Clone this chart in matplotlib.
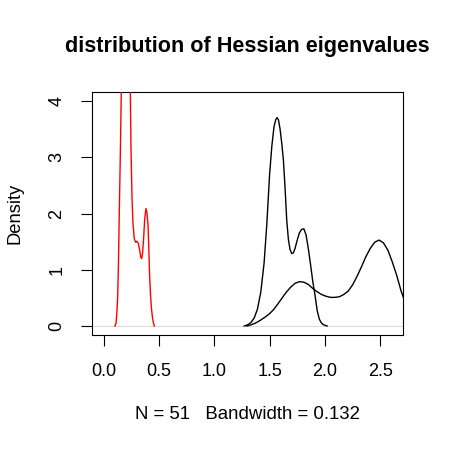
import matplotlib
matplotlib.use("Agg")
import matplotlib.pyplot as plt

plt.rcParams['font.family'] = ['Liberation Sans', 'DejaVu Sans']

# ----------------------
# Data (density curves)
# ----------------------
narrow_x = [1.27, 1.30, 1.33, 1.36, 1.39, 1.42, 1.45, 1.475, 1.50, 1.52, 1.54, 1.555,
            1.567, 1.58, 1.595, 1.61, 1.625, 1.64, 1.655, 1.67, 1.685, 1.70, 1.715,
            1.73, 1.75, 1.77, 1.79, 1.81, 1.83, 1.85, 1.87, 1.89, 1.91, 1.93, 1.95,
            1.97, 1.99, 2.02]
narrow_y = [0.00, 0.02, 0.06, 0.14, 0.30, 0.60, 1.12, 1.82, 2.70, 3.20, 3.55, 3.67,
            3.71, 3.67, 3.50, 3.25, 2.95, 2.45, 1.88, 1.54, 1.36, 1.29, 1.30,
            1.38, 1.53, 1.66, 1.72, 1.73, 1.62, 1.38, 1.10, 0.80, 0.56, 0.28, 0.12,
            0.05, 0.02, 0.00]

wide_x = [1.295, 1.33, 1.37, 1.415, 1.46, 1.50, 1.535, 1.57, 1.61, 1.65, 1.69, 1.73,
          1.77, 1.81, 1.85, 1.89, 1.93, 1.97, 2.01, 2.05, 2.09, 2.13, 2.17, 2.21,
          2.25, 2.29, 2.33, 2.37, 2.41, 2.45, 2.49, 2.53, 2.57, 2.61, 2.65, 2.69,
          2.73, 2.77]
wide_y = [0.00, 0.02, 0.05, 0.10, 0.16, 0.22, 0.29, 0.38, 0.49, 0.60, 0.69, 0.76,
          0.79, 0.78, 0.74, 0.67, 0.61, 0.56, 0.53, 0.51, 0.51, 0.52, 0.56, 0.62,
          0.73, 0.88, 1.05, 1.23, 1.38, 1.49, 1.53, 1.48, 1.35, 1.14, 0.90, 0.62,
          0.40, 0.24]

red_x = [0.10, 0.11, 0.118, 0.125, 0.132, 0.14, 0.15, 0.158, 0.166, 0.175, 0.19,
         0.205, 0.22, 0.232, 0.24, 0.246, 0.255, 0.264, 0.276, 0.288, 0.30, 0.312,
         0.324, 0.334, 0.342, 0.35, 0.36, 0.37, 0.381, 0.39, 0.40, 0.407, 0.414,
         0.422, 0.43, 0.44, 0.45, 0.457]
red_y = [0.00, 0.04, 0.22, 0.50, 1.05, 2.00, 3.10, 4.15, 5.20, 6.10, 6.80,
         6.90, 6.20, 5.00, 4.15, 3.18, 2.29, 1.82, 1.55, 1.49, 1.51, 1.47,
         1.36, 1.23, 1.20, 1.28, 1.55, 1.90, 2.09, 2.02, 1.80, 1.40, 0.93,
         0.58, 0.34, 0.15, 0.05, 0.00]

x_ticks = [0.0, 0.5, 1.0, 1.5, 2.0, 2.5]
y_ticks = [0, 1, 2, 3, 4]

# ----------------------
# Plot
# ----------------------
fig = plt.figure(figsize=(4.5, 4.5), dpi=100)
ax = fig.add_axes([92.3 / 450, 1 - 335 / 450, (402.7 - 92.3) / 450, (335 - 92.3) / 450])

ax.axhline(0, color='#bebebe', lw=0.4, zorder=1)
ax.plot(narrow_x, narrow_y, color='black', lw=1.0, zorder=2)
ax.plot(wide_x, wide_y, color='black', lw=1.0, zorder=2)
ax.plot(red_x, red_y, color='red', lw=1.0, zorder=3)

ax.set_xlim(-0.104, 2.704)
ax.set_ylim(-0.16, 4.16)

ax.set_xticks(x_ticks)
ax.set_xticklabels(["0.0", "0.5", "1.0", "1.5", "2.0", "2.5"])
ax.set_yticks(y_ticks)
ax.set_yticklabels([str(v) for v in y_ticks], rotation=90, va='baseline',
                   ha='center', rotation_mode='anchor')

for s in ax.spines.values():
    s.set_linewidth(0.8)
ax.tick_params(axis='both', length=8, width=0.8, labelsize=13)
ax.tick_params(axis='x', pad=12.3)
ax.tick_params(axis='y', pad=14.2)

fig.text(247.5 / 450, 1 - 52 / 450, "distribution of Hessian eigenvalues",
         ha='center', va='baseline', fontsize=15.6, fontweight='bold')
fig.text(247.5 / 450, 1 - 419 / 450, "N = 51   Bandwidth = 0.132",
         ha='center', va='baseline', fontsize=13.4)
fig.text(19.5 / 450, 1 - 213.5 / 450, "Density", rotation=90, rotation_mode='anchor',
         ha='center', va='baseline', fontsize=13.2)

fig.savefig("out.png", dpi=100)
